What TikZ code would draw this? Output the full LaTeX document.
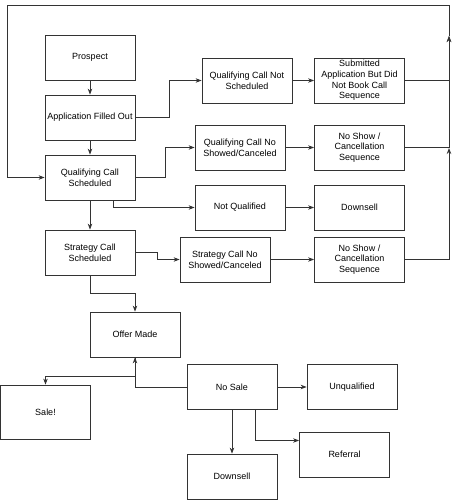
\documentclass[tikz,border=0pt]{standalone}
\usepackage{fontspec}
\setmainfont{Liberation Sans}
\usetikzlibrary{arrows.meta}

\tikzset{
  stagebox/.style={draw=black!80, line width=0.8pt, minimum width=90pt, minimum height=45pt,
    align=center, font=\fontsize{9}{10.7}\selectfont, inner sep=2pt},
  flow/.style={draw=black!80, line width=0.8pt, -{Stealth[length=6pt,width=4.5pt]}},
  link/.style={draw=black!80, line width=0.8pt}
}

\begin{document}
\begin{tikzpicture}[x=1pt,y=-1pt]
      \useasboundingbox (0,0) rectangle (456,500);

      % Main column
      \node [stagebox] (prospect) at (90,57.5) {Prospect};
      \node [stagebox] (app) at (90,117.5) {Application Filled Out};
      \node [stagebox] (qcs) at (90,177.5) {Qualifying Call\\Scheduled};
      \node [stagebox] (scs) at (90,252.5) {Strategy Call\\Scheduled};

      % Branches
      \node [stagebox] (qcns) at (247,80.5) {Qualifying Call Not\\Scheduled};
      \node [stagebox] (submitted) at (359.5,80.5) {Submitted\\Application But Did\\Not Book Call\\Sequence};
      \node [stagebox] (qcnoshow) at (240,147.5) {Qualifying Call No\\Showed/Canceled};
      \node [stagebox] (noshowA) at (359.5,147.5) {No Show /\\Cancellation\\Sequence};
      \node [stagebox] (notqual) at (240,207.5) {Not Qualified};
      \node [stagebox] (downsellA) at (359.5,207.5) {Downsell};
      \node [stagebox] (scnoshow) at (225,259.5) {Strategy Call No\\Showed/Canceled};
      \node [stagebox] (noshowB) at (359.5,259.5) {No Show /\\Cancellation\\Sequence};

      % Offer
      \node [stagebox] (offer) at (135,334.5) {Offer Made};
      \node [stagebox,minimum height=54pt] (sale) at (45.5,412) {Sale!};
      \node [stagebox] (nosale) at (232,387) {No Sale};
      \node [stagebox] (unqual) at (352,387) {Unqualified};
      \node [stagebox] (referral) at (344.5,454.5) {Referral};
      \node [stagebox] (downsellB) at (232,476.5) {Downsell};

      % Loop points
      \coordinate (jA) at (449,36);
      \coordinate (jB) at (449,148);
      \coordinate (jTop) at (449,5);
      \coordinate (jLeft) at (7,5);

      % Edges
      \draw [flow] (prospect) -- (app);
      \draw [flow] (app) -- (qcs);
      \draw [flow] (qcs) -- (scs);
      \draw [flow] (app.east) -- ++(34,0) |- (qcns.west);
      \draw [flow] (qcns) -- (submitted);
      \draw [flow] (qcs.east) -- ++(30,0) |- (qcnoshow.west);
      \draw [flow] (qcnoshow) -- (noshowA);
      \draw [flow] ([xshift=23pt]qcs.south) |- (notqual.west);
      \draw [flow] (notqual) -- (downsellA);
      \draw [flow] (scs.east) -- ++(22,0) |- (scnoshow.west);
      \draw [flow] (scnoshow) -- (noshowB);
      \draw [flow] (submitted.east) -| (jA);
      \draw [flow] (noshowA.east) -| (jA);
      \draw [flow] (noshowB.east) -| (jB);
      \draw [flow] (jA) -- (jTop) -- (jLeft) |- (qcs.west);
      \draw [flow] (scs.south) -- ++(0,18) -| (offer.north);
      \draw [flow] (nosale.west) -| (offer.south);
      \draw [flow] (offer.south) -- ++(0,19) -| (sale.north);
      \draw [flow] (nosale) -- (unqual);
      \draw [flow] (nosale) -- (downsellB);
      \draw [flow] ([xshift=23pt]nosale.south) |- ([yshift=14pt]referral.west);
\end{tikzpicture}
\end{document}
